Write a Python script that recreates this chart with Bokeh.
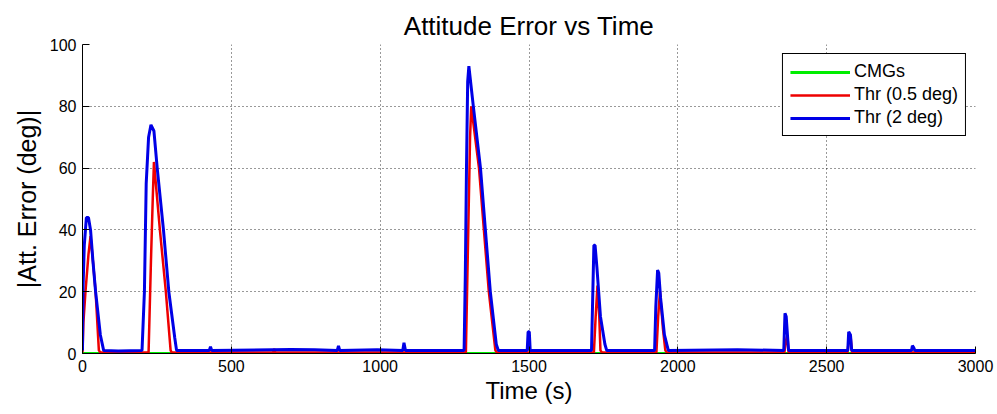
from bokeh.plotting import figure
from bokeh.models import Range1d, FixedTicker, Legend, LegendItem
from bokeh.embed import file_html
from bokeh.resources import INLINE

# ---- data ----
cmg_t = [0, 3000]
cmg_v = [0, 0]

thr05_t = [0, 3, 10, 20, 27, 35, 44, 55, 60, 222, 230, 236, 240, 260, 280, 296, 300,
           640, 644, 648, 1288, 1296, 1302, 1306, 1332, 1365, 1387, 1392,
           1718, 1724, 1730, 1736, 1740, 1745, 1928, 1934, 1940, 1950, 1958, 1963,
           2358, 2363, 2368, 2372, 2570, 2575, 2580, 2585, 3000]
thr05_v = [0.3, 10, 20, 32, 38, 30, 20, 1, 0.3, 0.3, 30, 50, 62, 40, 20, 1, 0.3,
           0.3, 1.5, 0.3, 0.3, 40, 70, 80, 60, 20, 1, 0.3,
           0.3, 12, 22, 12, 1, 0.3, 0.3, 12, 20, 8, 1, 0.3,
           0.3, 4, 6, 0.3, 0.3, 5, 6, 0.3, 0.3]

thr2_t = [0, 2, 6, 13, 20, 27, 35, 44, 60, 71, 120, 200, 208, 214, 222, 230, 240, 251, 272, 290, 310, 316,
          426, 430, 434, 700, 780, 856, 860, 864, 990, 1076, 1080, 1085,
          1282, 1286, 1290, 1294, 1298, 1313, 1337, 1370, 1390, 1397,
          1494, 1497, 1501, 1504, 1710, 1714, 1718, 1722, 1728, 1740, 1755, 1761,
          1922, 1926, 1932, 1936, 1942, 1955, 1968, 2200, 2356, 2360, 2364, 2369, 2372,
          2571, 2574, 2580, 2584, 2785, 2788, 2792, 2796, 3000]
thr2_v = [1, 22, 35, 44, 44, 40, 30, 20, 6, 1, 0.8, 1, 20, 55, 70, 74, 72, 60, 40, 20, 5, 1,
          1, 2.2, 1, 1.3, 1.2, 1, 2.5, 1, 1.2, 1, 3.5, 1,
          1, 25, 60, 88, 93, 80, 60, 20, 3, 1,
          1, 7, 7, 1, 1, 18, 35, 35, 28, 12, 3, 1,
          1, 15, 27, 26, 18, 6, 1, 1.2, 1, 13, 12, 5, 1,
          1, 7, 6, 1, 1, 2.5, 2, 1, 1]

series_names = ["CMGs", "Thr (0.5 deg)", "Thr (2 deg)"]
series_colors = ["#00EE00", "#EE0000", "#0000E6"]

x_ticks = [0, 500, 1000, 1500, 2000, 2500, 3000]
y_ticks = [0, 20, 40, 60, 80, 100]

FONT = "Liberation Sans"

p = figure(width=997, height=414, output_backend="svg", toolbar_location=None,
           x_range=Range1d(0, 3000), y_range=Range1d(0, 100),
           min_border_left=82, min_border_right=22, min_border_top=44, min_border_bottom=61,
           title="Attitude Error vs Time")
p.title.align = "center"
p.title.text_font = FONT
p.title.text_font_size = "26px"
p.title.text_font_style = "normal"
p.title.text_color = "black"
p.title.standoff = 8
p.outline_line_color = None
p.background_fill_color = "white"
p.border_fill_color = "white"

r_cmg = p.line(cmg_t, cmg_v, line_color=series_colors[0], line_width=3)
r_05 = p.line(thr05_t, thr05_v, line_color=series_colors[1], line_width=2.5)
r_2 = p.line(thr2_t, thr2_v, line_color=series_colors[2], line_width=3)

p.xaxis.ticker = FixedTicker(ticks=x_ticks)
p.yaxis.ticker = FixedTicker(ticks=y_ticks)
for ax in (p.xaxis[0], p.yaxis[0]):
    ax.major_tick_in = 7
    ax.major_tick_out = 0
    ax.minor_tick_line_color = None
    ax.axis_line_color = "black"
    ax.major_tick_line_color = "black"
    ax.major_label_text_font = FONT
    ax.major_label_text_font_size = "16px"
    ax.major_label_text_color = "black"
    ax.axis_label_text_font = FONT
    ax.axis_label_text_font_style = "normal"
    ax.axis_label_text_color = "black"
p.xaxis.axis_label = "Time (s)"
p.yaxis.axis_label = "|Att. Error (deg)|"
p.xaxis.axis_label_text_font_size = "24px"
p.yaxis.axis_label_text_font_size = "25px"
p.xaxis.major_label_standoff = 6
p.xaxis.axis_label_standoff = 2
p.yaxis.major_label_standoff = 6
p.yaxis.axis_label_standoff = 6

p.xgrid.ticker = FixedTicker(ticks=x_ticks)
p.ygrid.ticker = FixedTicker(ticks=y_ticks)
for g in (p.xgrid[0], p.ygrid[0]):
    g.grid_line_color = "black"
    g.grid_line_dash = "1 3"
    g.grid_line_alpha = 0.8
    g.grid_line_width = 1

legend = Legend(items=[LegendItem(label=series_names[0], renderers=[r_cmg]),
                       LegendItem(label=series_names[1], renderers=[r_05]),
                       LegendItem(label=series_names[2], renderers=[r_2])],
                location="top_right")
legend.margin = 9
legend.padding = 7
legend.spacing = 2
legend.glyph_width = 60
legend.glyph_height = 18
legend.label_height = 18
legend.label_standoff = 4
legend.label_text_font = FONT
legend.label_text_font_size = "18px"
legend.label_text_color = "black"
legend.border_line_color = "black"
legend.border_line_width = 1
legend.border_line_alpha = 1
legend.background_fill_color = "white"
legend.background_fill_alpha = 1
p.add_layout(legend)

open("out.html", "w").write(file_html(p, INLINE))
